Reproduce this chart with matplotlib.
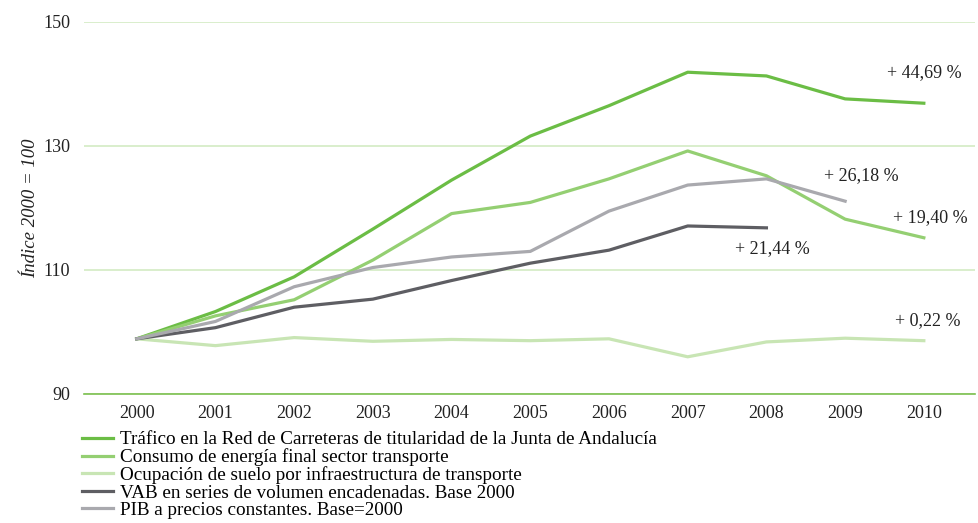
import matplotlib
matplotlib.use("Agg")
import matplotlib.pyplot as plt

years = [2000, 2001, 2002, 2003, 2004, 2005, 2006, 2007, 2008, 2009, 2010]
trafico = [98.9, 103.3, 108.9, 116.6, 124.5, 131.6, 136.5, 141.9, 141.3, 137.6, 136.9]
consumo = [98.9, 102.6, 105.2, 111.6, 119.1, 120.9, 124.7, 129.2, 125.2, 118.2, 115.2]
ocupacion = [98.9, 97.8, 99.1, 98.5, 98.8, 98.6, 98.9, 96.0, 98.4, 99.0, 98.6]
vab = [98.9, 100.7, 104.0, 105.3, 108.3, 111.1, 113.2, 117.1, 116.8]
pib = [98.9, 101.7, 107.3, 110.4, 112.1, 113.0, 119.5, 123.7, 124.7, 121.1]

labels = [
    "Tráfico en la Red de Carreteras de titularidad de la Junta de Andalucía",
    "Consumo de energía final sector transporte",
    "Ocupación de suelo por infraestructura de transporte",
    "VAB en series de volumen encadenadas. Base 2000",
    "PIB a precios constantes. Base=2000",
]
annotations = ["+ 44,69 %", "+ 26,18 %", "+ 19,40 %", "+ 21,44 %", "+ 0,22 %"]
yticks = [90, 110, 130, 150]

plt.rcParams['font.family'] = ['Liberation Serif', 'DejaVu Serif']

fig = plt.figure(figsize=(9.79, 5.23), dpi=100)
ax = fig.add_axes([84/979, 1-394/523, (975-84)/979, (394-22)/523])

colors = ["#6bbd45", "#94cf72", "#c8e5b4", "#5e5e63", "#a9a9ae"]
series = [trafico, consumo, ocupacion, vab, pib]
for s, c, l in zip(series, colors, labels):
    ax.plot(years[:len(s)], s, color=c, lw=2.3, label=l, solid_joinstyle='round')

ax.set_xlim(1999.33, 2010.65)
ax.set_ylim(90, 150)
ax.set_yticks(yticks)
ax.set_xticks(years)
ax.grid(axis='y', color='#d3ebc4', lw=1.2)
ax.set_axisbelow(True)
for sp in ['top', 'right', 'left']:
    ax.spines[sp].set_visible(False)
ax.spines['bottom'].set_color('#7cc04f')
ax.spines['bottom'].set_linewidth(1.2)
ax.tick_params(axis='both', length=0, labelsize=13, colors='#222222')
ax.tick_params(axis='y', pad=10)
ax.tick_params(axis='x', pad=8)
ax.set_ylabel("Índice 2000 = 100", fontsize=13.5, style='italic', color='#222222', labelpad=3)

ann_pos = [(2010.0, 141.9), (2009.21, 125.2), (2010.08, 118.4), (2008.07, 113.5), (2010.05, 101.9)]
for t, (x, y) in zip(annotations, ann_pos):
    ax.text(x, y, t, fontsize=13, ha='center', va='center', color='#222222')

fig.legend(loc='upper left', bbox_to_anchor=(82/979, 1-431/523), frameon=False,
           fontsize=13.8, handlelength=1.6, handletextpad=0.38, labelspacing=0.0,
           borderaxespad=0, borderpad=0)

fig.savefig("out.png", dpi=100)
